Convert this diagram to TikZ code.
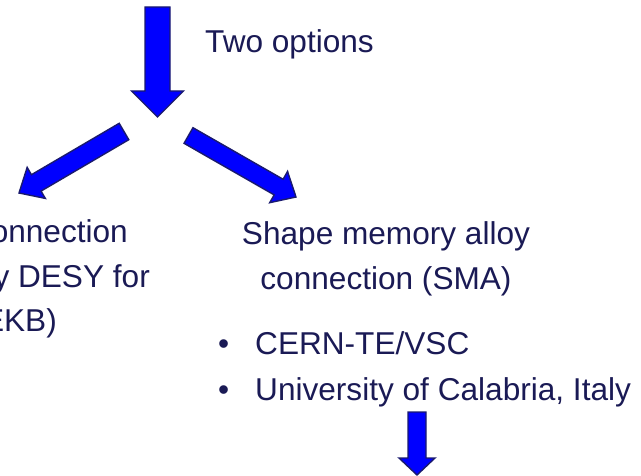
\documentclass[tikz,border=0pt]{standalone}
\usepackage{fontspec}
\setmainfont{Liberation Sans}
\usetikzlibrary{calc}
\definecolor{txtnavy}{HTML}{1A1A55}
\definecolor{arrline}{HTML}{1A1A6E}
\definecolor{arrfill}{HTML}{0000FF}
\newcommand\blkarrow[5]{% start, end, half shaft width, half head width, head length
  \coordinate (bn) at ($(#2)!#5!(#1)$);
  \draw[blockarr]
    ($(#1)!#3!90:(#2)$) -- ($(bn)!#3!90:(#2)$) -- ($(bn)!#4!90:(#2)$) -- (#2)
    -- ($(bn)!#4!-90:(#2)$) -- ($(bn)!#3!-90:(#2)$) -- ($(#1)!#3!-90:(#2)$) -- cycle;
}
\begin{document}
\begin{tikzpicture}[x=1pt,y=-1pt,
  blockarr/.style={draw=arrline,fill=arrfill,line width=1.4pt,line join=miter},
  lbl/.style={inner sep=0pt,text=txtnavy,font=\fontsize{31.6}{38}\selectfont}]
\useasboundingbox (0,0) rectangle (641,476);
% arrows
\coordinate (a1s) at (157.5,7);
\coordinate (a1e) at (157.5,117);
\blkarrow{a1s}{a1e}{12.5pt}{26pt}{26pt}
\coordinate (a2s) at (124,131.5);
\coordinate (a2e) at (19,193);
\blkarrow{a2s}{a2e}{9.5pt}{18pt}{20pt}
\coordinate (a3s) at (188.5,135.5);
\coordinate (a3e) at (296,197);
\blkarrow{a3s}{a3e}{9pt}{18pt}{20pt}
\coordinate (a4s) at (417,412);
\coordinate (a4e) at (417,475);
\blkarrow{a4s}{a4e}{9pt}{18pt}{17pt}
% texts
\node[lbl,anchor=base west] (two) at (205,53) {Two options};
\node[lbl,anchor=base east] (l1) at (128,243) {onnection};
\node[lbl,anchor=base east] (l2) at (150,288) {y DESY for};
\node[lbl,anchor=base east] (l3) at (57,332) {EKB)};
\node[lbl,anchor=base] (r1) at (386,245) {Shape memory alloy};
\node[lbl,anchor=base] (r2) at (386,290) {connection (SMA)};
\node[lbl,anchor=base west] (b1) at (218,355) {•};
\node[lbl,anchor=base west] (t1) at (255,355) {CERN-TE/VSC};
\node[lbl,anchor=base west] (b2) at (218,400) {•};
\node[lbl,anchor=base west] (t2) at (255,400) {University of Calabria, Italy};
\end{tikzpicture}
\end{document}
